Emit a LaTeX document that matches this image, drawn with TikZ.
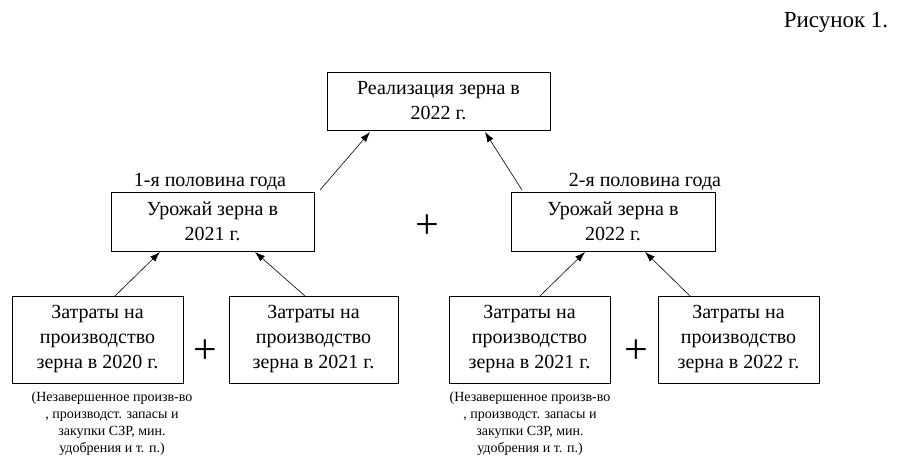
\documentclass[tikz,border=0pt]{standalone}
\usepackage{fontspec}
\setmainfont{Liberation Serif}
\usetikzlibrary{arrows.meta}
\begin{document}
\begin{tikzpicture}[x=1pt,y=-1pt,
  bx/.style={draw,semithick,align=center,inner sep=0pt,font=\fontsize{20}{25}\selectfont},
  ar/.style={semithick,-{Latex[length=10pt,width=7pt]}},
  note/.style={align=center,font=\fontsize{14}{17}\selectfont},
  lbl/.style={font=\fontsize{20}{22}\selectfont}]
\useasboundingbox (0,0) rectangle (903,470);
\node[bx,minimum width=223,minimum height=58] (top) at (438.5,101) {Реализация зерна в\\2022 г.};
\node[bx,minimum width=203,minimum height=59] (lm) at (212.5,221.5) {Урожай зерна в\\2021 г.};
\node[bx,minimum width=204,minimum height=59] (rm) at (613,221.5) {Урожай зерна в\\2022 г.};
\node[bx,minimum width=171,minimum height=87] (b1) at (97.5,339.5) {Затраты на\\производство\\зерна в 2020 г.};
\node[bx,minimum width=169,minimum height=87] (b2) at (313.5,339.5) {Затраты на\\производство\\зерна в 2021 г.};
\node[bx,minimum width=161,minimum height=87] (b3) at (529.5,339.5) {Затраты на\\производство\\зерна в 2021 г.};
\node[bx,minimum width=161,minimum height=87] (b4) at (738.5,339.5) {Затраты на\\производство\\зерна в 2022 г.};
\node[lbl] (l1) at (210,182) {1-я половина года};
\node[lbl] (l2) at (645,182) {2-я половина года};
\node[font=\fontsize{42}{42}\selectfont] (p1) at (427,227) {+};
\node[font=\fontsize{42}{42}\selectfont] (p2) at (205,352) {+};
\node[font=\fontsize{42}{42}\selectfont] (p3) at (636,352) {+};
\node[font=\fontsize{23}{25}\selectfont] (fig) at (836,22) {Рисунок 1.};
\node[note] (n1) at (112,424) {(Незавершенное произв-во\\, производст. запасы и\\закупки СЗР, мин.\\удобрения и т. п.)};
\node[note] (n2) at (530,424) {(Незавершенное произв-во\\, производст. запасы и\\закупки СЗР, мин.\\удобрения и т. п.)};
\draw[ar] (320,190) -- (370,132);
\draw[ar] (522,190) -- (485,132);
\draw[ar] (115,296) -- (160,252);
\draw[ar] (305,296) -- (255,252);
\draw[ar] (540,296) -- (585,252);
\draw[ar] (690,296) -- (645,252);
\end{tikzpicture}
\end{document}
